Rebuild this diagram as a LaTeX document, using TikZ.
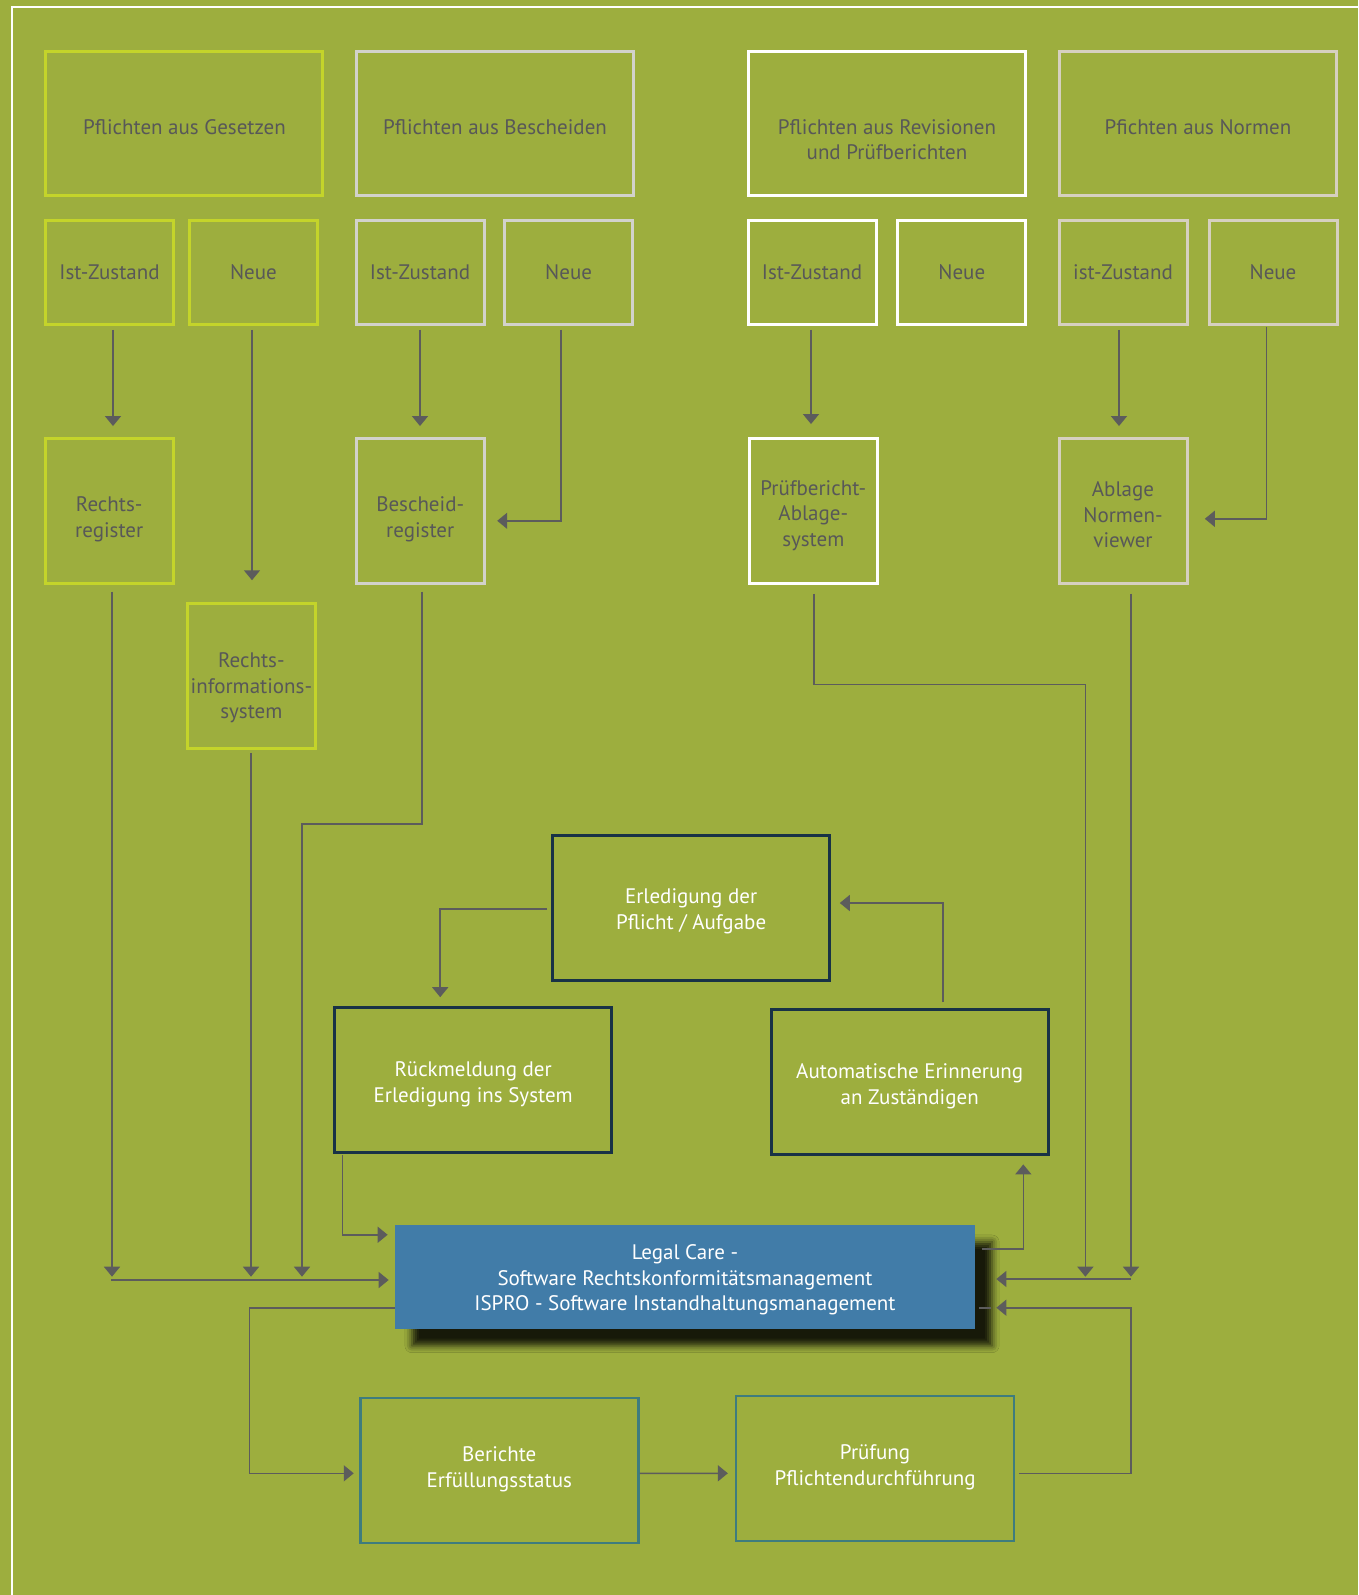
\documentclass[tikz,border=0pt]{standalone}
\usepackage{fontspec}
\setmainfont{PT Sans}
\usetikzlibrary{arrows.meta,shadows.blur,calc}
\definecolor{bg}{RGB}{157,174,62}
\definecolor{limec}{RGB}{196,212,42}
\definecolor{greyc}{RGB}{210,210,204}
\definecolor{beigec}{RGB}{214,208,192}
\definecolor{txtgray}{RGB}{88,88,88}
\definecolor{navyc}{RGB}{24,50,70}
\definecolor{tealc}{RGB}{62,124,126}
\definecolor{bluec}{RGB}{65,124,168}
\definecolor{linec}{RGB}{92,92,92}
\tikzset{
  box/.style={draw, line width=3pt, inner sep=0pt},
  limebox/.style={box, draw=limec},
  greybox/.style={box, draw=greyc},
  whitebox/.style={box, draw=white},
  beigebox/.style={box, draw=beigec},
  darkbox/.style={box, draw=navyc, minimum width=277pt, minimum height=145pt},
  tealbox/.style={box, draw=tealc, line width=2.5pt, minimum width=278pt, minimum height=145pt},
  bigbox/.style={minimum width=277pt, minimum height=144pt},
  smallbox/.style={minimum width=128pt, minimum height=104pt},
  regbox/.style={minimum width=128pt, minimum height=144.5pt},
  gtxt/.style={inner sep=0pt, align=center, text=txtgray},
  wtxt/.style={inner sep=0pt, align=center, text=white},
  conn/.style={draw=linec, line width=1.6pt},
  arr/.style={conn, -{Triangle[length=10pt,width=16pt]}},
}
\begin{document}
\begin{tikzpicture}[x=1pt, y=-1pt, font=\fontsize{21}{25.5}\selectfont]
\useasboundingbox (0,0) rectangle (1358,1595);
\fill[bg] (0,0) rectangle (1358,1595);
\draw[white, line width=2pt] (12.3,1595) -- (12.3,6.7) -- (1358,6.7);

% top row
\node[limebox, bigbox] (g) at (184.4,123.5) {};
\node[greybox, bigbox] (b) at (495,123.5) {};
\node[whitebox, bigbox] (r) at (887,123.5) {};
\node[beigebox, bigbox] (n) at (1198,123.5) {};
\node[gtxt] (gT) at ($(g)+(0,4)$) {Pflichten aus Gesetzen};
\node[gtxt] (bT) at ($(b)+(0,4)$) {Pflichten aus Bescheiden};
\node[gtxt] (rT) at ($(r)+(0,16)$) {Pflichten aus Revisionen\\und Prüfberichten};
\node[gtxt] (nT) at ($(n)+(0,4)$) {Pfichten aus Normen};

% second row
\node[limebox, smallbox] (gi) at (109.5,272.3) {};
\node[limebox, smallbox] (gn) at (253.5,272.3) {};
\node[greybox, smallbox] (bi) at (420,272.3) {};
\node[greybox, smallbox] (bn) at (568.6,272.3) {};
\node[whitebox, smallbox] (ri) at (812,272.3) {};
\node[whitebox, smallbox] (rn) at (961.8,272.3) {};
\node[beigebox, smallbox] (ni) at (1123,272.3) {};
\node[beigebox, smallbox] (nn) at (1273,272.3) {};
\node[gtxt] (giT) at (gi) {Ist-Zustand};
\node[gtxt] (gnT) at (gn) {Neue};
\node[gtxt] (biT) at (bi) {Ist-Zustand};
\node[gtxt] (bnT) at (bn) {Neue};
\node[gtxt] (riT) at (ri) {Ist-Zustand};
\node[gtxt] (rnT) at (rn) {Neue};
\node[gtxt] (niT) at (ni) {ist-Zustand};
\node[gtxt] (nnT) at (nn) {Neue};

% registers
\node[limebox, regbox] (rr) at (109.2,510.8) {};
\node[greybox, regbox] (br) at (420.2,510.8) {};
\node[whitebox, regbox] (pb) at (813.3,510.8) {};
\node[beigebox, regbox] (an) at (1123,510.8) {};
\node[limebox, regbox] (ris) at (251.4,676) {};
\node[gtxt] (rrT) at ($(rr)+(0,8.5)$) {Rechts-\\register};
\node[gtxt] (brT) at ($(br)+(0,8.5)$) {Bescheid-\\register};
\node[gtxt] (pbT) at ($(pb)+(0,4.5)$) {Prüfbericht-\\Ablage-\\system};
\node[gtxt] (anT) at ($(an)+(0,4)$) {Ablage\\Normen-\\viewer};
\node[gtxt] (risT) at ($(ris)+(0,12)$) {Rechts-\\informations-\\system};

% middle
\node[darkbox] (er) at (691.1,907.5) {};
\node[darkbox] (rm) at (473.2,1080.2) {};
\node[darkbox] (au) at (909.7,1082) {};
\node[wtxt] (erT) at ($(er)+(0,4)$) {Erledigung der\\Pflicht / Aufgabe};
\node[wtxt] (rmT) at ($(rm)+(0,4)$) {Rückmeldung der\\Erledigung ins System};
\node[wtxt] (auT) at ($(au)+(0,4)$) {Automatische Erinnerung\\an Zuständigen};

% legal care
\node[fill=bluec, inner sep=0pt, minimum width=580.3pt, minimum height=103.7pt,
      blur shadow={shadow xshift=17pt, shadow yshift=-17pt, shadow blur radius=7pt, shadow opacity=85}]
  (LC) at (685,1276.8) {};
\node[wtxt] (LCT) at ($(LC)+(0,3)$) {Legal Care -\\Software Rechtskonformitätsmanagement\\ISPRO - Software Instandhaltungsmanagement};

% bottom
\node[tealbox] (be) at (499.3,1470.5) {};
\node[tealbox] (pr) at (875.1,1468.4) {};
\node[wtxt] (beT) at ($(be)+(0,-1)$) {Berichte\\Erfüllungsstatus};
\node[wtxt] (prT) at ($(pr)+(0,-1)$) {Prüfung\\Pflichtendurchführung};

% helper coordinates
\coordinate (busY) at (0,1276.7);
\coordinate (busL) at (111,1280);
\coordinate (bjog) at (302,824);
\coordinate (pjog) at (1085.4,684.6);
\coordinate (rbus) at (1131,1279);
\coordinate (rloop) at (1131,1307.7);
\coordinate (lloop) at (249.4,1307.7);

% connectors top
\draw[arr] ($(gi.south)+(3.5,4)$) -- ($(rr.north)+(3.8,-11)$);
\draw[arr] ($(gn.south)+(-1.5,4)$) -- ($(ris.north)+(0.6,-22)$);
\draw[arr] ($(bi.south)+(0,4)$) -- ($(br.north)+(-0.2,-11)$);
\draw[arr] ($(bn.south)+(-7.6,4)$) |- ($(br.east)+(11.5,10)$);
\draw[arr] ($(ri.south)+(-1,4)$) -- ($(pb.north)+(-2.3,-13)$);
\draw[arr] ($(ni.south)+(-4,4)$) -- ($(an.north)+(-4,-11)$);
\draw[arr] ($(nn.south)+(-6.6,0.7)$) |- ($(an.east)+(16.3,8)$);

% connectors to legal care (left)
\draw[arr] ($(rr.south)+(2.8,7)$) -- ($(rr.south |- busY)+(2.8,0)$);
\draw[arr] ($(ris.south)+(-0.4,3)$) -- ($(ris.south |- busY)+(-0.4,0)$);
\draw[arr] ($(br.south)+(1.8,7)$) |- (bjog) -- (bjog |- busY);
\draw[arr] (busL) -- ($(LC.west |- busL)+(-6,0)$);
\draw[arr] ($(rm.south west)+(9.3,1)$) |- ($(LC.north west)+(-7,10)$);

% middle cycle
\draw[arr] ($(er.west)+(-4,1.5)$) -| ($(rm.north west)+(107,-9)$);
\draw[arr] ($(au.north west)+(173.5,-6)$) |- ($(er.east)+(8.7,-4.5)$);
\draw[arr] ($(LC.east)+(7,-27.8)$) -| ($(au.south west)+(253.6,8.4)$);

% right side
\draw[arr] ($(pb.south)+(0.5,9)$) |- (pjog) -- (pjog |- busY);
\draw[arr] ($(an.south)+(8,9)$) -- ($(an.south |- busY)+(8,0)$);
\draw[arr] (rbus) -- ($(LC.east |- rbus)+(21,0)$);
\draw[arr] ($(pr.east)+(3.5,4.9)$) -| (rloop) -- ($(LC.east |- rloop)+(21,0)$);
\draw[conn] ($(LC.east |- rloop)+(4,0)$) -- ($(LC.east |- rloop)+(16,0)$);

% bottom loop
\draw[arr] (LC.west |- lloop) -- (lloop) |- ($(be.west)+(-5.3,2.8)$);
\draw[arr] ($(be.east)+(0,2.8)$) -- ($(pr.west)+(-7,4.9)$);
\end{tikzpicture}
\end{document}
